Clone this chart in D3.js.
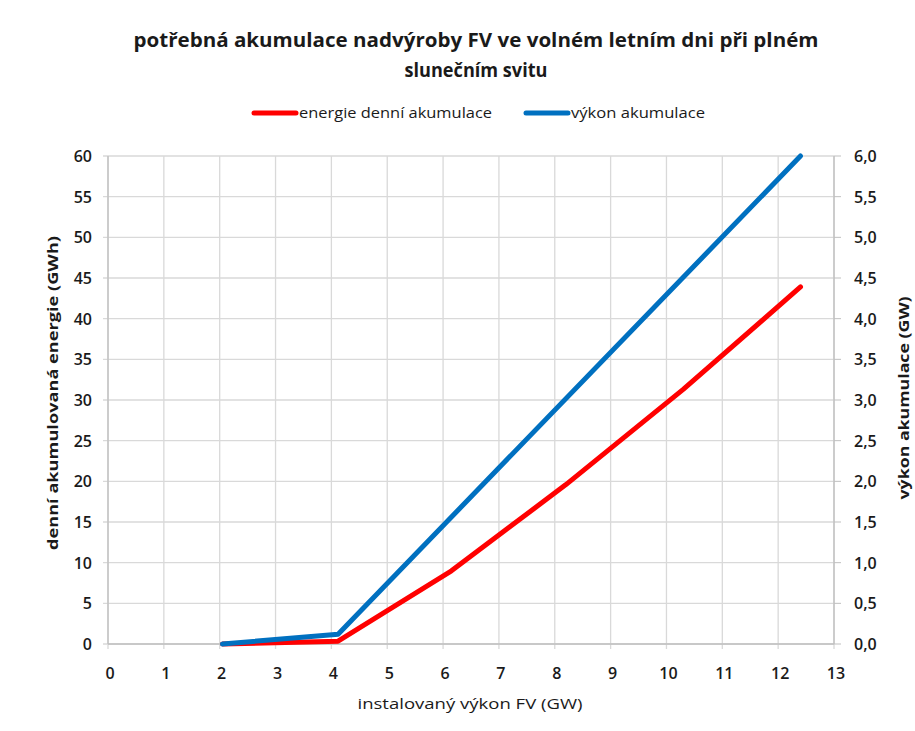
<!DOCTYPE html>
<html>
<head>
<meta charset="utf-8">
<script src="https://cdn.jsdelivr.net/npm/d3@7"></script>
<style>
  body { margin: 0; background: #fff; }
  text { font-family: "Open Sans", sans-serif; fill: #1a1a1a; }
</style>
</head>
<body>
<div id="container"></div>
<script>
// data
const installedGW = [2.05, 4.12, 6.15, 8.2, 10.3, 12.4];
const energyGWh = [0, 0.35, 9.0, 19.6, 31.3, 43.9];
const powerX = [2.05, 4.12, 12.4];
const powerGW = [0, 0.12, 6.0];
const xTicks = d3.range(0, 14);
const leftTicks = d3.range(0, 61, 5);
const rightTicks = d3.range(0, 6.01, 0.5);

const width = 915, height = 731;
const m = {left: 108, right: 834, top: 156, bottom: 644};

const svg = d3.select("#container")
  .append("svg")
    .attr("width", width)
    .attr("height", height);

const x = d3.scaleLinear().domain([0, 13]).range([m.left, m.right]);
const yL = d3.scaleLinear().domain([0, 60]).range([m.bottom, m.top]);
const yR = d3.scaleLinear().domain([0, 6]).range([m.bottom, m.top]);

// grid
svg.append("g")
    .attr("stroke", "#d9d9d9")
    .attr("stroke-width", 1.3)
  .selectAll("line.h")
  .data(leftTicks)
  .join("line")
    .attr("x1", m.left - 5).attr("x2", m.right)
    .attr("y1", d => yL(d)).attr("y2", d => yL(d));

svg.append("g")
    .attr("stroke", "#d9d9d9")
    .attr("stroke-width", 1.3)
  .selectAll("line.v")
  .data(xTicks)
  .join("line")
    .attr("x1", d => x(d)).attr("x2", d => x(d))
    .attr("y1", m.top).attr("y2", m.bottom + 5);

// right ticks
svg.append("g")
    .attr("stroke", "#bfbfbf")
  .selectAll("line")
  .data(rightTicks)
  .join("line")
    .attr("x1", m.right).attr("x2", m.right + 7)
    .attr("y1", d => yR(d)).attr("y2", d => yR(d));

svg.append("g").attr("stroke", "#bfbfbf").attr("stroke-width", 1.3)
  .call(g => {
    g.append("line").attr("x1", m.left).attr("x2", m.left).attr("y1", m.top).attr("y2", m.bottom);
    g.append("line").attr("x1", m.right).attr("x2", m.right).attr("y1", m.top).attr("y2", m.bottom);
    g.append("line").attr("x1", m.left).attr("x2", m.right).attr("y1", m.bottom).attr("y2", m.bottom);
  });

// tick labels
const tickStyle = g => g.attr("font-size", 16).attr("font-weight", 600).style("fill", "#262626");

svg.append("g").call(tickStyle).attr("text-anchor", "end")
  .selectAll("text").data(leftTicks).join("text")
    .attr("x", m.left - 16).attr("y", d => yL(d) + 6)
    .text(d => d);

const fmtR = d3.format(".1f");
svg.append("g").call(tickStyle).attr("text-anchor", "start")
  .selectAll("text").data(rightTicks).join("text")
    .attr("x", m.right + 20).attr("y", d => yR(d) + 6)
    .text(d => fmtR(d).replace(".", ","));

svg.append("g").call(tickStyle).attr("text-anchor", "middle")
  .selectAll("text").data(xTicks).join("text")
    .attr("x", d => x(d) + 2).attr("y", 679)
    .text(d => d);

// lines
const lineE = d3.line().x((d, i) => x(installedGW[i])).y(d => yL(d));
const lineP = d3.line().x((d, i) => x(powerX[i])).y(d => yR(d));

svg.append("path").datum(energyGWh)
  .attr("d", lineE).attr("fill", "none")
  .attr("stroke", "#ff0000").attr("stroke-width", 5)
  .attr("stroke-linecap", "round").attr("stroke-linejoin", "round");

svg.append("path").datum(powerGW)
  .attr("d", lineP).attr("fill", "none")
  .attr("stroke", "#0070c0").attr("stroke-width", 5)
  .attr("stroke-linecap", "round").attr("stroke-linejoin", "round");

// titles
const title = svg.append("text").attr("text-anchor", "middle")
  .attr("font-size", 19).attr("font-weight", "bold");
title.append("tspan").attr("x", 476).attr("y", 47)
  .attr("textLength", 685).attr("lengthAdjust", "spacingAndGlyphs")
  .text("potřebná akumulace nadvýroby FV ve volném letním dni při plném");
title.append("tspan").attr("x", 476).attr("y", 77)
  .attr("textLength", 143).attr("lengthAdjust", "spacingAndGlyphs")
  .text("slunečním svitu");

svg.append("text").attr("text-anchor", "middle").attr("font-size", 15)
  .attr("x", 470).attr("y", 709)
  .attr("textLength", 225).attr("lengthAdjust", "spacingAndGlyphs")
  .text("instalovaný  výkon FV (GW)");

svg.append("text").attr("text-anchor", "middle").attr("font-size", 15)
  .attr("font-weight", "bold")
  .attr("transform", "translate(58,393) rotate(-90)")
  .attr("textLength", 314).attr("lengthAdjust", "spacingAndGlyphs")
  .text("denní akumulovaná  energie (GWh)");

svg.append("text").attr("text-anchor", "middle").attr("font-size", 15)
  .attr("font-weight", "bold")
  .attr("transform", "translate(909,398) rotate(-90)")
  .attr("textLength", 203).attr("lengthAdjust", "spacingAndGlyphs")
  .text("výkon akumulace  (GW)");

// legend
const legend = [
  {name: "energie denní akumulace", color: "#ff0000", x: 254, w: 193},
  {name: "výkon akumulace", color: "#0070c0", x: 526, w: 134}
];
const lg = svg.append("g").selectAll("g").data(legend).join("g")
  .attr("transform", d => `translate(${d.x},113)`);
lg.append("line").attr("x1", 0).attr("x2", 42)
  .attr("stroke", d => d.color).attr("stroke-width", 5).attr("stroke-linecap", "round");
lg.append("text").attr("x", 45).attr("y", 5).attr("font-size", 14)
  .attr("textLength", d => d.w).attr("lengthAdjust", "spacingAndGlyphs")
  .text(d => d.name);
</script>
</body>
</html>
